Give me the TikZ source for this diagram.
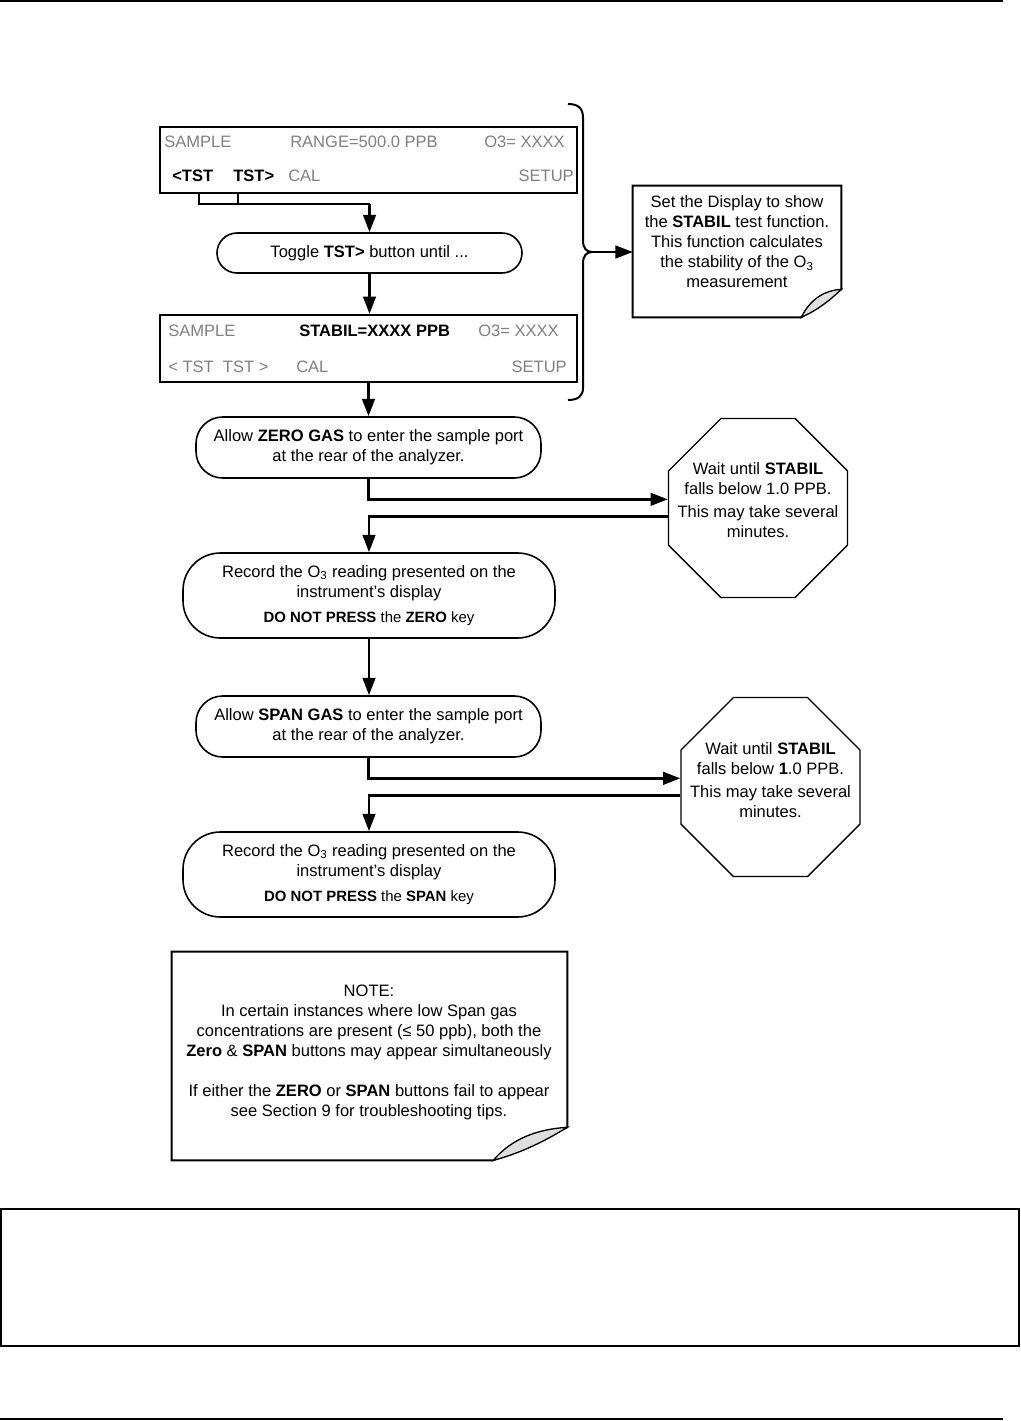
\documentclass[tikz,border=0pt]{standalone}
\usepackage{fontspec}
\setmainfont{Liberation Sans}
\definecolor{dispgray}{RGB}{128,128,128}
\usetikzlibrary{shapes.geometric,arrows.meta,positioning,calc}
\newcommand{\txtsize}{\fontsize{12.4}{15}\selectfont}
\newcommand{\keysize}{\fontsize{11.2}{13}\selectfont}

\tikzset{
  display/.style={draw, line width=1.7pt, minimum width=312.75pt, inner sep=0pt},
  disptxt/.style={inner sep=0pt, font=\txtsize, text=dispgray},
  stepbox/.style={draw, line width=1.2pt, inner sep=0pt, align=center, font=\txtsize},
  waitbox/.style={draw, line width=1pt, regular polygon, regular polygon sides=8,
    minimum size=145.3pt, inner sep=0pt},
  noteframe/.style={inner sep=0pt},
  notetxt/.style={inner sep=0pt, align=center, font=\txtsize},
  noteline/.style={line width=1.5pt, line join=miter},
  curl/.style={fill=gray!25, line width=1pt},
  conn/.style={line width=1.8pt},
}

\begin{document}
\begin{tikzpicture}[x=0.75pt, y=-0.75pt, >={Triangle[length=13pt,width=9.5pt]}]
    \useasboundingbox (0,0) rectangle (1021,1421);
    % page rules
    \draw[line width=1pt] (0,1) -- (1003,1);
    \draw[line width=1pt] (0,1419) -- (1003,1419);

    % first display
    \node[display, minimum height=49.5pt] (disp1) at (368.5,160) {};
    \node[disptxt, anchor=west] (samp1) at (164,142) {SAMPLE};
    \node[disptxt, anchor=west] (range) at (290,142) {RANGE=500.0 PPB};
    \node[disptxt, anchor=east] (ozone1) at (565,142) {O3= XXXX};
    \node[disptxt, anchor=west, text=black, font=\txtsize\bfseries] (ltst) at (172,176) {<TST};
    \node[disptxt, anchor=west, text=black, font=\txtsize\bfseries] (rtst) at (233,176) {TST>};
    \node[disptxt, anchor=west] (cal1) at (288,176) {CAL};
    \node[disptxt, anchor=east] (setup1) at (574,176) {SETUP};

    \node[stepbox, rounded corners=15pt, minimum width=228.75pt, minimum height=30pt]
        (toggle) at (369.5,253) {Toggle \textbf{TST>} button until ...};

    \coordinate (lkey) at (199,193);
    \coordinate (rkey) at (238,193);
    \coordinate (tj) at (369.5,204);
    \draw[conn] (lkey) |- (tj);
    \draw[conn] (rkey) -- (rkey |- tj);
    \draw[conn,->] (tj) -- (toggle.north);

    % second display
    \node[display, minimum height=50.25pt] (disp2) at (368.5,348.5) {};
    \node[disptxt, anchor=west] (samp2) at (168,331) {SAMPLE};
    \node[disptxt, anchor=west, text=black, font=\txtsize\bfseries] (stabil) at (299,331) {STABIL=XXXX PPB};
    \node[disptxt, anchor=west] (ozone2) at (478,331) {O3= XXXX};
    \node[disptxt, anchor=west] (tst2) at (168,367) {< TST~ TST >};
    \node[disptxt, anchor=west] (cal2) at (296,367) {CAL};
    \node[disptxt, anchor=east] (setup2) at (567,367) {SETUP};
    \draw[conn,->] (toggle.south) -- (toggle.south |- disp2.north);

    % brace and first note
    \draw[line width=1.5pt] (568,104) .. controls (578,104) and (583,108) .. (583,118)
        -- (583,240) .. controls (583,248) and (586,252) .. (592,252) coordinate (bracetip)
        .. controls (586,252) and (583,256) .. (583,264)
        -- (583,388) .. controls (583,396) and (578,400) .. (568,400);
    \node[noteframe, minimum width=156pt, minimum height=98.25pt] (setnote) at (737,251.5) {};
    \draw[noteline] (setnote.north west) -- (setnote.north east) -- ([yshift=21pt]setnote.south east)
        -- ([xshift=-30pt]setnote.south east) -- (setnote.south west) -- cycle;
    \filldraw[curl] ([xshift=-30pt]setnote.south east)
        .. controls ([shift={(-30,-20)}]setnote.south east) and ([shift={(-15,-27)}]setnote.south east)
        .. ([yshift=21pt]setnote.south east)
        .. controls ([shift={(-12,-16)}]setnote.south east) and ([shift={(-26,-6)}]setnote.south east)
        .. cycle;
    \node[notetxt] (setnotetxt) at (737,242) {Set the Display to show\\the \textbf{STABIL} test function.\\This function calculates\\the stability of the O\textsubscript{3}\\measurement};
    \draw[conn,->] (bracetip) -- (bracetip -| setnote.west);

    % zero gas
    \node[stepbox, rounded corners=20pt, minimum width=258.75pt, minimum height=45.75pt]
        (zero) at (368.5,447.5) {Allow \textbf{ZERO GAS} to enter the sample port\\at the rear of the analyzer.};
    \draw[conn,->] (disp2.south) -- (zero.north);
    \node[waitbox] (zerowait) at (758,508) {};
    \node[notetxt] (zerowaittxt) at (758,500) {Wait until \textbf{STABIL}\\falls below 1.0 PPB.\\[2pt]This may take several\\minutes.};
    \draw[conn,->] (zero.south) |- ([yshift=6.5pt]zerowait.west);
    \node[stepbox, rounded corners=28pt, minimum width=279pt, minimum height=63.75pt]
        (zerorec) at (369,595.5) {Record the O\textsubscript{3} reading presented on the\\instrument's display\\[4pt]{\keysize\textbf{DO NOT PRESS} the \textbf{ZERO} key}};
    \draw[conn,->] ([yshift=-6.5pt]zerowait.west) -| (zerorec.north);

    % span gas
    \node[stepbox, rounded corners=20pt, minimum width=258.75pt, minimum height=45.75pt]
        (span) at (368.5,726.5) {Allow \textbf{SPAN GAS} to enter the sample port\\at the rear of the analyzer.};
    \draw[conn,->] (zerorec.south) -- (zerorec.south |- span.north);
    \node[waitbox] (spanwait) at (770.5,787) {};
    \node[notetxt] (spanwaittxt) at (770.5,780) {Wait until \textbf{STABIL}\\falls below \textbf{1}.0 PPB.\\[2pt]This may take several\\minutes.};
    \draw[conn,->] (span.south) |- ([yshift=6.5pt]spanwait.west);
    \node[stepbox, rounded corners=28pt, minimum width=279pt, minimum height=63.75pt]
        (spanrec) at (369,874.5) {Record the O\textsubscript{3} reading presented on the\\instrument's display\\[4pt]{\keysize\textbf{DO NOT PRESS} the \textbf{SPAN} key}};
    \draw[conn,->] ([yshift=-6.5pt]spanwait.west) -| (spanrec.north);

    % note at the bottom
    \node[noteframe, minimum width=296.25pt, minimum height=156pt] (tipnote) at (369.5,1056) {};
    \draw[noteline] (tipnote.north west) -- (tipnote.north east) -- ([yshift=24.75pt]tipnote.south east)
        -- ([xshift=-55.5pt]tipnote.south east) -- (tipnote.south west) -- cycle;
    \filldraw[curl] ([xshift=-55.5pt]tipnote.south east)
        .. controls ([shift={(-55,-22)}]tipnote.south east) and ([shift={(-30,-31)}]tipnote.south east)
        .. ([yshift=24.75pt]tipnote.south east)
        .. controls ([shift={(-24,-18)}]tipnote.south east) and ([shift={(-50,-6)}]tipnote.south east)
        .. cycle;
    \node[notetxt] (tiptxt) at (369,1052) {NOTE:\\In certain instances where low Span gas\\concentrations are present (≤ 50 ppb), both the\\\textbf{Zero} \& \textbf{SPAN} buttons may appear simultaneously\\[15pt]If either the \textbf{ZERO} or \textbf{SPAN} buttons fail to appear\\see Section 9 for troubleshooting tips.};

    % empty frame below
    \draw[line width=1.2pt] (1,1209) rectangle (1019,1346);
\end{tikzpicture}
\end{document}
